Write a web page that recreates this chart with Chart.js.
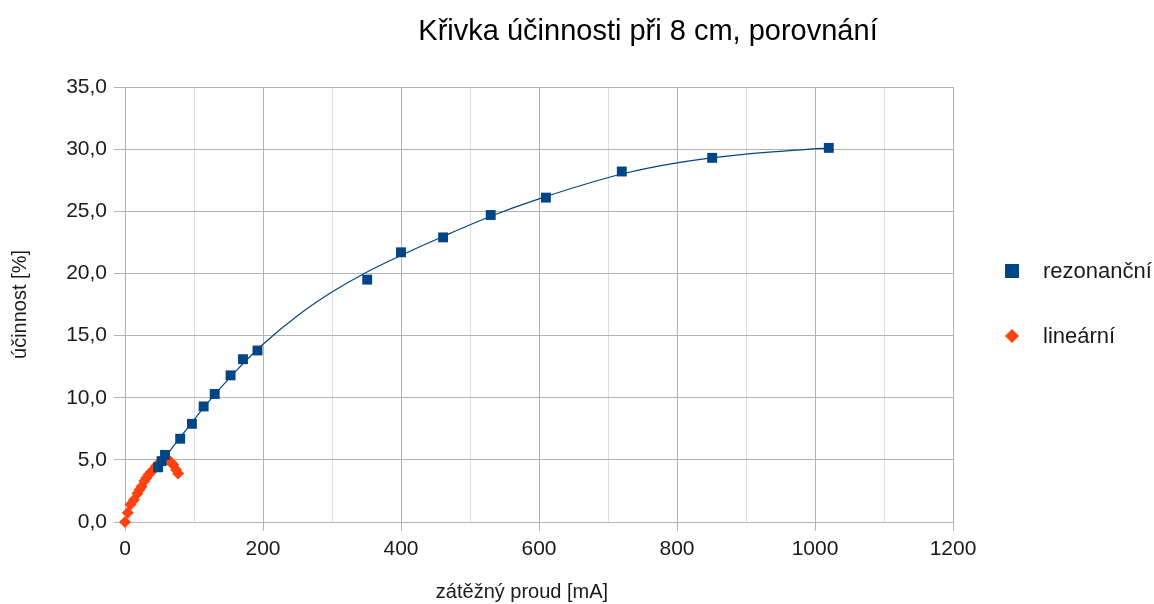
<!DOCTYPE html>
<html>
<head>
<meta charset="utf-8">
<script src="https://cdn.jsdelivr.net/npm/chart.js@4.4.1/dist/chart.umd.min.js"></script>
<style>
  html, body { margin: 0; padding: 0; background: #ffffff; }
  #wrap { width: 1154px; height: 604px; }
</style>
</head>
<body>
<div id="wrap"><canvas id="c" width="1154" height="604"></canvas></div>
<script>
const chartTitle = 'Křivka účinnosti při 8 cm, porovnání';
const xTitle = 'zátěžný proud [mA]';
const yTitle = 'účinnost [%]';
const seriesNames = ['rezonanční', 'lineární'];

const resCurrent = [48, 53, 58, 80, 97, 114, 130, 153, 171, 192, 351, 400, 461, 530, 610, 720, 851, 1020];
const resEff     = [4.4, 4.9, 5.4, 6.7, 7.9, 9.3, 10.3, 11.8, 13.1, 13.8, 19.5, 21.7, 22.9, 24.7, 26.1, 28.2, 29.3, 30.1];

const linCurrent = [0, 4, 8, 13, 18, 21, 24, 28, 31, 34, 38, 41, 45, 49, 53, 58, 62, 66, 70, 74, 77];
const linEff     = [0.0, 0.75, 1.4, 1.8, 2.3, 2.6, 2.85, 3.3, 3.55, 3.8, 4.05, 4.2, 4.5, 4.7, 4.85, 4.95, 5.0, 4.85, 4.6, 4.2, 3.9];

// trend curve of the resonant series
const trendCurrent = [48, 80, 120, 160, 200, 250, 300, 350, 400, 460, 530, 600, 720, 800, 900, 1020];
const trendEff     = [4.5, 6.8, 9.6, 12.1, 14.3, 16.6, 18.5, 20.1, 21.45, 22.95, 24.6, 26.0, 28.0, 28.9, 29.6, 30.1];

const xTicks = [0, 200, 400, 600, 800, 1000, 1200];

const BLUE = '#004586';
const ORANGE = '#ff420e';
const GRID = '#b3b3b3';
const GRID_MINOR = '#dddddd';
const FONT = '"Liberation Sans", Arial, sans-serif';

const toPts = (xs, ys) => xs.map((x, i) => ({x: x, y: ys[i]}));

const overlay = {
  id: 'overlay',
  afterDraw(chart) {
    const ctx = chart.ctx;
    ctx.save();
    // title
    ctx.fillStyle = '#000000';
    ctx.font = '29px ' + FONT;
    ctx.textAlign = 'center';
    ctx.textBaseline = 'alphabetic';
    ctx.fillText(chartTitle, 648, 40);
    // x axis title
    ctx.fillStyle = '#1a1a1a';
    ctx.font = '20px ' + FONT;
    ctx.textBaseline = 'middle';
    ctx.fillText(xTitle, 522, 592);
    // legend
    ctx.font = '22px ' + FONT;
    ctx.textAlign = 'left';
    ctx.textBaseline = 'middle';
    const items = [
      {name: seriesNames[0], y: 271, style: 'rect', color: BLUE},
      {name: seriesNames[1], y: 336, style: 'diamond', color: ORANGE}
    ];
    items.forEach(it => {
      ctx.fillStyle = it.color;
      const cx = 1012;
      if (it.style === 'rect') {
        ctx.fillRect(cx - 7, it.y - 7, 14, 14);
      } else {
        ctx.beginPath();
        ctx.moveTo(cx, it.y - 7);
        ctx.lineTo(cx + 7, it.y);
        ctx.lineTo(cx, it.y + 7);
        ctx.lineTo(cx - 7, it.y);
        ctx.closePath();
        ctx.fill();
      }
      ctx.fillStyle = '#1a1a1a';
      ctx.fillText(it.name, 1043, it.y + 1);
    });
    ctx.restore();
  }
};

new Chart(document.getElementById('c'), {
  type: 'scatter',
  data: {
    datasets: [
      {
        label: seriesNames[0],
        data: toPts(resCurrent, resEff),
        pointStyle: 'rect',
        pointRadius: 7,
        pointBackgroundColor: BLUE,
        pointBorderColor: BLUE,
        pointBorderWidth: 0,
        showLine: false,
        clip: false,
        order: 0
      },
      {
        label: seriesNames[1],
        data: toPts(linCurrent, linEff),
        pointStyle: 'rectRot',
        pointRadius: 6,
        pointBackgroundColor: ORANGE,
        pointBorderColor: ORANGE,
        pointBorderWidth: 0,
        showLine: false,
        clip: false,
        order: 1
      },
      {
        label: 'trend',
        data: toPts(trendCurrent, trendEff),
        showLine: true,
        borderColor: BLUE,
        borderWidth: 1.2,
        pointRadius: 0,
        cubicInterpolationMode: 'monotone',
        fill: false,
        order: 2
      }
    ]
  },
  options: {
    responsive: false,
    animation: false,
    devicePixelRatio: 1,
    layout: { padding: { top: 87, right: 201, left: 0, bottom: 0 } },
    plugins: {
      legend: { display: false },
      title: { display: false },
      tooltip: { enabled: false }
    },
    scales: {
      x: {
        type: 'linear',
        min: 0,
        max: 1200,
        afterFit(s) { s.height = 82; },
        afterBuildTicks(s) {
          const t = [];
          for (let v = 0; v <= 1200; v += 100) t.push({value: v});
          s.ticks = t;
        },
        ticks: {
          autoSkip: false,
          maxRotation: 0,
          padding: 6,
          color: '#1a1a1a',
          font: { family: FONT, size: 21 },
          callback: (v) => xTicks.includes(v) ? String(v) : ''
        },
        grid: {
          color: (c) => (c.tick && c.tick.value % 200 === 0) ? GRID : GRID_MINOR,
          tickColor: (c) => (c.tick && c.tick.value % 200 === 0) ? GRID : 'rgba(0,0,0,0)',
          tickLength: 9,
          lineWidth: 1
        },
        border: { color: GRID, width: 1 },
        title: { display: false }
      },
      y: {
        min: 0,
        max: 35,
        afterFit(s) { s.width = 125; },
        ticks: {
          stepSize: 5,
          padding: 7,
          color: '#1a1a1a',
          font: { family: FONT, size: 21 },
          callback: (v) => v.toFixed(1).replace('.', ',')
        },
        grid: {
          color: GRID,
          tickColor: GRID,
          tickLength: 11,
          lineWidth: 1
        },
        border: { color: GRID, width: 1 },
        title: {
          display: true,
          text: yTitle,
          color: '#1a1a1a',
          font: { family: FONT, size: 20 },
          padding: { top: 8, bottom: 0 }
        }
      }
    }
  },
  plugins: [overlay]
});
</script>
</body>
</html>
